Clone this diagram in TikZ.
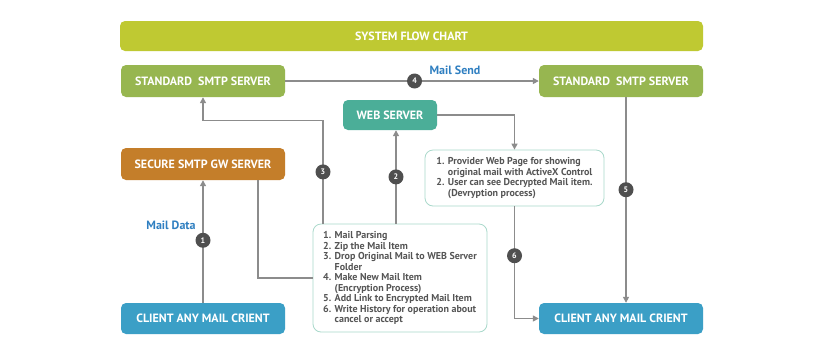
\documentclass[tikz,border=0pt]{standalone}
\usepackage{fontspec}
\setmainfont{PT Sans}[BoldFont={PT Sans Bold}]
\usetikzlibrary{arrows.meta}

\definecolor{titlegreen}{HTML}{BFC932}
\definecolor{smtpgreen}{HTML}{97B650}
\definecolor{webteal}{HTML}{4BAE98}
\definecolor{gworange}{HTML}{C47E2A}
\definecolor{clientblue}{HTML}{3B9FC6}
\definecolor{linegray}{HTML}{8C8C8C}
\definecolor{stepgray}{HTML}{4F4F4F}
\definecolor{noteborder}{HTML}{A9D9CB}
\definecolor{labelblue}{HTML}{2F7FC1}
\definecolor{notetext}{HTML}{555555}

\tikzset{
	box/.style={rounded corners=5pt, text=white, inner sep=0pt,
		font=\bfseries\fontsize{12}{14}\selectfont,
		minimum width=164pt, minimum height=32pt},
	note/.style={draw=noteborder, line width=0.8pt, fill=white,
		rounded corners=8pt, align=left, text=notetext, inner sep=0pt,
		font=\bfseries\fontsize{10}{10.5}\selectfont},
	num/.style={circle, fill=stepgray, text=white, inner sep=0pt,
		font=\bfseries\fontsize{8}{9}\selectfont, minimum size=15pt},
	link/.style={draw=linegray, line width=1.4pt},
	flow/.style={link, -{Triangle[length=6pt,width=6pt]}},
	tag/.style={text=labelblue, font=\bfseries\fontsize{12}{14}\selectfont}
}

\begin{document}
\begin{tikzpicture}[x=1pt, y=-1pt]
		\useasboundingbox[fill=white] (0,0) rectangle (824,357);

		% boxes
		\node[box, fill=titlegreen, minimum width=583pt, minimum height=30pt] (title) at (411.5,36) {SYSTEM FLOW CHART};
		\node[box, fill=smtpgreen] (smtpA) at (203,81) {STANDARD\ \ SMTP SERVER};
		\node[box, fill=smtpgreen] (smtpB) at (621,81) {STANDARD\ \ SMTP SERVER};
		\node[box, fill=webteal, minimum width=94pt, minimum height=30pt] (web) at (390,115) {WEB SERVER};
		\node[box, fill=gworange] (gw) at (203,164) {SECURE SMTP GW SERVER};
		\node[box, fill=clientblue, minimum height=31pt] (clientA) at (203,318.5) {CLIENT ANY MAIL CRIENT};
		\node[box, fill=clientblue, minimum height=31pt] (clientB) at (621,318.5) {CLIENT ANY MAIL CRIENT};

		% notes
		\node[note, minimum width=174pt, minimum height=108pt] (tasks) at (400,278) {%
			1. Mail Parsing\\
			2. Zip the Mail Item\\
			3. Drop Original Mail to WEB Server\\
			\phantom{3. }Folder\\
			4. Make New Mail Item\\
			\phantom{4. }(Encryption Process)\\
			5. Add Link to Encrypted Mail Item\\
			6. Write History for operation about\\
			\phantom{6. }cancel or accept};
		\node[note, minimum width=179pt, minimum height=56pt] (view) at (514.5,178) {%
			1. Provider Web Page for showing\\
			\phantom{1. }original mail with ActiveX Control\\
			2. User can see Decrypted Mail item.\\
			\phantom{2. }(Devryption process)};

		% connectors
		\draw[flow] (clientA.north) -- node[num, pos=0.51] {1} (gw.south);
		\draw[link] ([xshift=55pt]gw.south) |- (tasks.west);
		\draw[flow] ([xshift=-77pt]tasks.north) |- ([yshift=-23pt]smtpA.south) node[num, pos=0.25] {3} -- (smtpA.south);
		\draw[flow] ([xshift=-4pt]tasks.north) -- node[num] {2} ([xshift=6pt]web.south);
		\draw[flow] (smtpA.east) -- node[num, pos=0.51] {4} (smtpB.west);
		\draw[flow] (web.east) -| (view.north);
		\draw[flow] (view.south) |- node[num, pos=0.22] {6} (clientB.west);
		\draw[flow] ([xshift=5pt]smtpB.south) -- node[num, pos=0.45] {5} ([xshift=5pt]clientB.north);

		% labels
		\node[tag] (maildata) at (171,225) {Mail Data};
		\node[tag] (mailsend) at (455,70) {Mail Send};
	\end{tikzpicture}
\end{document}
